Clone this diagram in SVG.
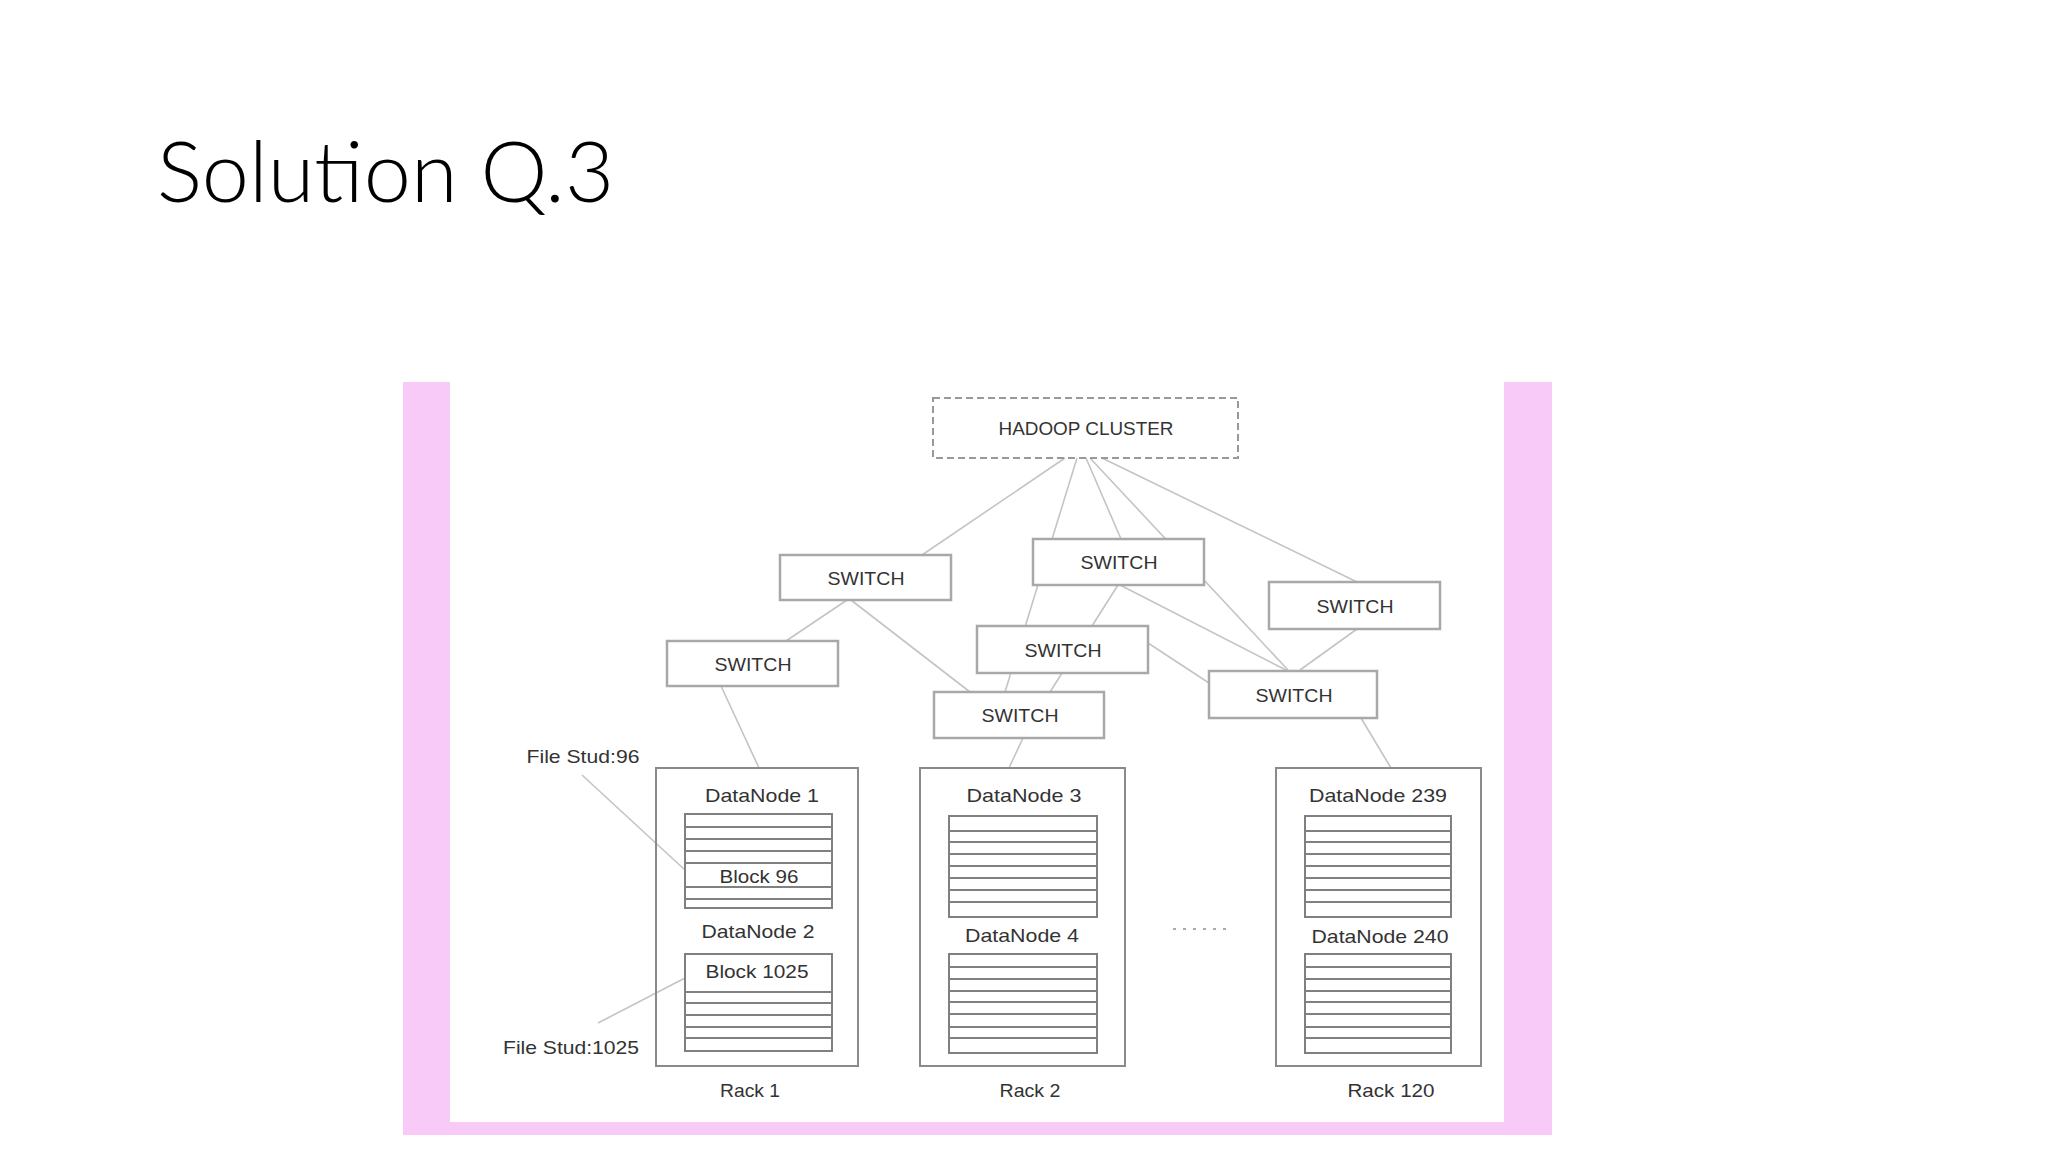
<svg xmlns="http://www.w3.org/2000/svg" width="2048" height="1152" viewBox="0 0 2048 1152">
<style>
.lbl{font-family:"Liberation Sans","DejaVu Sans",sans-serif;font-size:19px;fill:#333;text-anchor:middle}
.sw{fill:#fff;stroke:#a8a8a8;stroke-width:2.5}
.rack{fill:none;stroke:#8a8a8a;stroke-width:2}
.tbl{fill:#fff;stroke:#808080;stroke-width:2}
.row{stroke:#808080;stroke-width:2}
.con line{stroke:#c4c4c4;stroke-width:1.6;fill:none}
</style>
<rect width="2048" height="1152" fill="#fff"/>
<text x="157" y="202" font-family="Lato,'Open Sans','Liberation Sans',sans-serif" font-weight="300" font-size="84" fill="#000" textLength="457" lengthAdjust="spacingAndGlyphs">Solution Q.3</text>
<g id="frame">
<rect x="403" y="382" width="1149" height="753" fill="#f7caf7"/>
<rect x="450" y="382" width="1054" height="740" fill="#fff"/>
</g>
<g id="connectors" class="con">
<line x1="1065" y1="458" x2="922" y2="555"/>
<line x1="1077" y1="458" x2="1005" y2="692"/>
<line x1="1086" y1="458" x2="1121" y2="539"/>
<line x1="1090" y1="458" x2="1288" y2="670"/>
<line x1="1102" y1="458" x2="1357" y2="582"/>
<line x1="847" y1="600" x2="786" y2="641"/>
<line x1="851" y1="600" x2="970" y2="692"/>
<line x1="721" y1="686" x2="759" y2="768"/>
<line x1="1118" y1="585" x2="1050" y2="692"/>
<line x1="1120" y1="585" x2="1286" y2="670"/>
<line x1="1148" y1="643" x2="1209" y2="683"/>
<line x1="1357" y1="629" x2="1300" y2="670"/>
<line x1="1361" y1="718" x2="1391" y2="768"/>
<line x1="1023" y1="738" x2="1009" y2="768"/>
<line x1="582" y1="775" x2="685" y2="870"/>
<line x1="598" y1="1023" x2="685" y2="978"/>
</g>
<g id="hadoop">
<rect x="933" y="398" width="305" height="60" fill="none" stroke="#999" stroke-width="2" stroke-dasharray="7 4"/>
<text class="lbl" x="1086" y="435" textLength="175" lengthAdjust="spacingAndGlyphs">HADOOP CLUSTER</text>
</g>
<g id="switch1"><rect class="sw" x="780" y="555" width="171" height="45"/><text class="lbl" x="866" y="585" textLength="77" lengthAdjust="spacingAndGlyphs">SWITCH</text></g>
<g id="switch2"><rect class="sw" x="667" y="641" width="171" height="45"/><text class="lbl" x="753" y="671" textLength="77" lengthAdjust="spacingAndGlyphs">SWITCH</text></g>
<g id="switch3"><rect class="sw" x="1033" y="539" width="171" height="46"/><text class="lbl" x="1119" y="569" textLength="77" lengthAdjust="spacingAndGlyphs">SWITCH</text></g>
<g id="switch4"><rect class="sw" x="1269" y="582" width="171" height="47"/><text class="lbl" x="1355" y="613" textLength="77" lengthAdjust="spacingAndGlyphs">SWITCH</text></g>
<g id="switch5"><rect class="sw" x="977" y="626" width="171" height="47"/><text class="lbl" x="1063" y="657" textLength="77" lengthAdjust="spacingAndGlyphs">SWITCH</text></g>
<g id="switch6"><rect class="sw" x="934" y="692" width="170" height="46"/><text class="lbl" x="1020" y="722" textLength="77" lengthAdjust="spacingAndGlyphs">SWITCH</text></g>
<g id="switch7"><rect class="sw" x="1209" y="671" width="168" height="47"/><text class="lbl" x="1294" y="702" textLength="77" lengthAdjust="spacingAndGlyphs">SWITCH</text></g>
<g id="rack1">
<rect class="rack" x="656" y="768" width="202" height="298"/>
<text class="lbl" x="762" y="802" textLength="114" lengthAdjust="spacingAndGlyphs">DataNode 1</text>
<rect class="tbl" x="685" y="814" width="147" height="94"/>
<path class="row" d="M685 827H832M685 839H832M685 851H832M685 863H832M685 887H832M685 899H832"/>
<text class="lbl" x="759" y="883" textLength="79" lengthAdjust="spacingAndGlyphs">Block 96</text>
<text class="lbl" x="758" y="938" textLength="113" lengthAdjust="spacingAndGlyphs">DataNode 2</text>
<rect class="tbl" x="685" y="954" width="147" height="97"/>
<path class="row" d="M685 992H832M685 1003H832M685 1015H832M685 1027H832M685 1038H832"/>
<text class="lbl" x="757" y="978" textLength="103" lengthAdjust="spacingAndGlyphs">Block 1025</text>
</g>
<text class="lbl" x="750" y="1097" textLength="60" lengthAdjust="spacingAndGlyphs">Rack 1</text>
<g id="rack2">
<rect class="rack" x="920" y="768" width="205" height="298"/>
<text class="lbl" x="1024" y="802" textLength="115" lengthAdjust="spacingAndGlyphs">DataNode 3</text>
<rect class="tbl" x="949" y="816" width="148" height="101"/>
<path class="row" d="M949 831H1097M949 842H1097M949 854H1097M949 866H1097M949 878H1097M949 890H1097M949 902H1097"/>
<text class="lbl" x="1022" y="942" textLength="114" lengthAdjust="spacingAndGlyphs">DataNode 4</text>
<rect class="tbl" x="949" y="954" width="148" height="99"/>
<path class="row" d="M949 967H1097M949 979H1097M949 991H1097M949 1002H1097M949 1014H1097M949 1027H1097M949 1038H1097"/>
</g>
<text class="lbl" x="1030" y="1097" textLength="61" lengthAdjust="spacingAndGlyphs">Rack 2</text>
<g id="rack120">
<rect class="rack" x="1276" y="768" width="205" height="298"/>
<text class="lbl" x="1378" y="802" textLength="138" lengthAdjust="spacingAndGlyphs">DataNode 239</text>
<rect class="tbl" x="1305" y="816" width="146" height="101"/>
<path class="row" d="M1305 831H1451M1305 842H1451M1305 854H1451M1305 866H1451M1305 878H1451M1305 890H1451M1305 902H1451"/>
<text class="lbl" x="1380" y="943" textLength="137" lengthAdjust="spacingAndGlyphs">DataNode 240</text>
<rect class="tbl" x="1305" y="954" width="146" height="99"/>
<path class="row" d="M1305 967H1451M1305 979H1451M1305 991H1451M1305 1002H1451M1305 1014H1451M1305 1027H1451M1305 1038H1451"/>
</g>
<text class="lbl" x="1391" y="1097" textLength="87" lengthAdjust="spacingAndGlyphs">Rack 120</text>
<g id="labels">
<text class="lbl" x="583" y="763" textLength="113" lengthAdjust="spacingAndGlyphs">File Stud:96</text>
<text class="lbl" x="571" y="1054" textLength="136" lengthAdjust="spacingAndGlyphs">File Stud:1025</text>
<line x1="1173" y1="929" x2="1229" y2="929" stroke="#aaa" stroke-width="2" stroke-dasharray="3 7"/>
</g>
</svg>
